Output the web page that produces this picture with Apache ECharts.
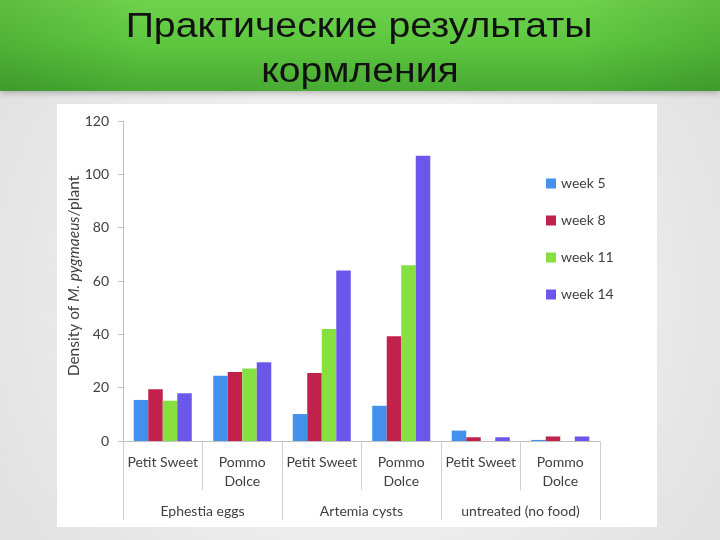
<!DOCTYPE html>
<html><head><meta charset="utf-8">
<script src="https://cdn.jsdelivr.net/npm/echarts@6/dist/echarts.min.js"></script>
<style>html,body{margin:0;padding:0;}#c{width:720px;height:540px;}</style>
</head><body><div id="c"></div>
<script>
const categories = ['Petit Sweet', 'Pommo\nDolce', 'Petit Sweet', 'Pommo\nDolce', 'Petit Sweet', 'Pommo\nDolce'];
const groups = ['Ephestia eggs', 'Artemia cysts', 'untreated (no food)'];
const seriesNames = ['week 5', 'week 8', 'week 11', 'week 14'];
const week5 = [15.4, 24.5, 10.1, 13.2, 3.9, 0.4];
const week8 = [19.4, 25.9, 25.5, 39.3, 1.4, 1.7];
const week11 = [15.1, 27.2, 42.0, 65.9, 0, 0];
const week14 = [17.9, 29.5, 63.9, 107.0, 1.4, 1.7];
const yTicks = [0, 20, 40, 60, 80, 100, 120];
const titleLines = ['Практические результаты', 'кормления'];
const colors = ['#4391ec', '#c1214b', '#86e040', '#6c57ec'];
const values = [week5, week8, week11, week14];

const font = 'Lato, "Open Sans", sans-serif';
const titleFont = '35px "Liberation Sans", Arial, sans-serif';
const chart = echarts.init(document.getElementById('c'));
chart.setOption({
  animation: false,
  backgroundColor: 'transparent',
  graphic: [
    { type: 'rect', z: -10, silent: true, shape: { x: 0, y: 0, width: 720, height: 540 },
      style: { fill: { type: 'radial', x: 0.5, y: 0.55, r: 0.75, colorStops: [{ offset: 0, color: '#fbfbfb' }, { offset: 1, color: '#e2e2e2' }] } } },
    { type: 'rect', z: -9, silent: true, shape: { x: 0, y: 0, width: 720, height: 91 },
      style: { fill: { type: 'linear', x: 0, y: 0, x2: 0, y2: 1, colorStops: [{ offset: 0, color: '#6fd24c' }, { offset: 0.5, color: '#5cc63f' }, { offset: 1, color: '#48aa33' }] },
        shadowBlur: 6, shadowColor: 'rgba(0,0,0,0.25)', shadowOffsetY: 2 } },
    { type: 'rect', z: -8, silent: true, shape: { x: 0, y: 0, width: 720, height: 91 },
      style: { fill: { type: 'linear', x: 0, y: 0, x2: 1, y2: 0, colorStops: [{ offset: 0, color: 'rgba(0,60,0,0.15)' }, { offset: 0.2, color: 'rgba(0,60,0,0)' }, { offset: 0.8, color: 'rgba(0,60,0,0)' }, { offset: 1, color: 'rgba(0,60,0,0.15)' }] } } },
    { type: 'rect', z: -7, silent: true, shape: { x: 57, y: 104, width: 600, height: 423 }, style: { fill: '#ffffff' } },
    { type: 'text', z: 10, silent: true, x: 359, y: 27, scaleX: 1.12,
      style: { text: titleLines[0], font: titleFont, fill: '#111', align: 'center', verticalAlign: 'middle' } },
    { type: 'text', z: 10, silent: true, x: 360, y: 72, scaleX: 1.12,
      style: { text: titleLines[1], font: titleFont, fill: '#111', align: 'center', verticalAlign: 'middle' } }
  ],
  legend: {
    orient: 'vertical', left: 541, top: 171, itemWidth: 10, itemHeight: 10, itemGap: 22,
    icon: 'rect', data: seriesNames,
    textStyle: { fontFamily: font, fontSize: 14, color: '#404040', lineHeight: 15 }
  },
  grid: { left: 123, right: 120, top: 121, bottom: 99 },
  xAxis: [
    { type: 'category', data: categories, position: 'bottom',
      axisLine: { lineStyle: { color: '#bfbfbf' } },
      axisTick: { show: true, interval: 0, length: 49, lineStyle: { color: '#d0d0d0' } },
      axisLabel: { interval: 0, margin: 12, fontFamily: font, fontSize: 14, color: '#404040', lineHeight: 19 } },
    { type: 'category', data: groups, position: 'bottom', offset: 0,
      axisLine: { show: false },
      axisTick: { show: true, interval: 0, length: 79, lineStyle: { color: '#d0d0d0' } },
      axisLabel: { interval: 0, margin: 61, fontFamily: font, fontSize: 14, color: '#404040', lineHeight: 19 } }
  ],
  yAxis: {
    type: 'value', min: yTicks[0], max: yTicks[yTicks.length - 1], interval: 20,
    axisLine: { show: true, lineStyle: { color: '#bfbfbf' } },
    axisTick: { show: true, length: 5, lineStyle: { color: '#bfbfbf' } },
    splitLine: { show: false },
    axisLabel: { margin: 14, fontFamily: font, fontSize: 14, color: '#404040' },
    name: '{a|Density of }{i|M. pygmaeus}{a|/plant}',
    nameLocation: 'middle', nameGap: 41, nameRotate: 90, nameMoveOverlap: false,
    nameTextStyle: { padding: [0, 0, 0, 10], rich: {
      a: { fontFamily: font, fontSize: 15.5, color: '#404040' },
      i: { fontFamily: font, fontSize: 15.5, color: '#404040', fontStyle: 'italic' } } }
  },
  series: seriesNames.map((n, i) => ({
    name: n, type: 'bar', data: values[i], xAxisIndex: 0,
    barGap: '0%', barCategoryGap: '27%',
    itemStyle: { color: colors[i] }
  }))
});
</script></body></html>
